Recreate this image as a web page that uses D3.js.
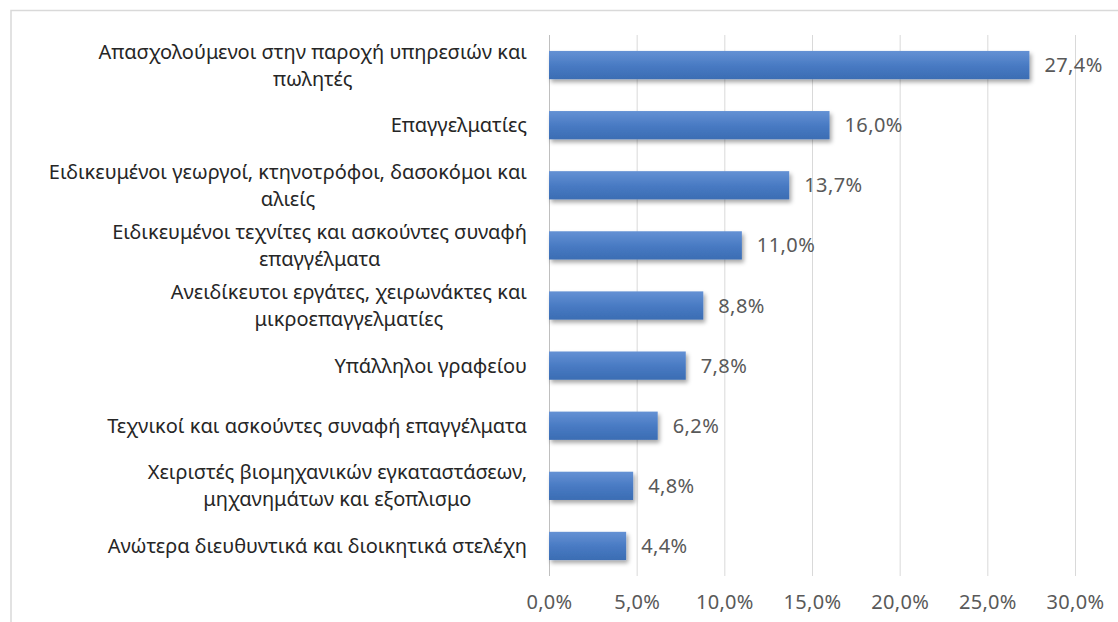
<!DOCTYPE html>
<html>
<head>
<meta charset="utf-8">
<script src="https://cdn.jsdelivr.net/npm/d3@7"></script>
<style>
  body { margin: 0; background: #fff; }
  svg { display: block; }
</style>
</head>
<body>
<svg id="chart" width="1118" height="622"></svg>
<script>
// categories, top to bottom (lines as wrapped in the original)
var categories = [
    ["Απασχολούμενοι στην παροχή υπηρεσιών και", "πωλητές"],
    ["Επαγγελματίες"],
    ["Ειδικευμένοι γεωργοί, κτηνοτρόφοι, δασοκόμοι και", "αλιείς"],
    ["Ειδικευμένοι τεχνίτες και ασκούντες συναφή", "επαγγέλματα"],
    ["Ανειδίκευτοι εργάτες, χειρωνάκτες και", "μικροεπαγγελματίες"],
    ["Υπάλληλοι γραφείου"],
    ["Τεχνικοί και ασκούντες συναφή επαγγέλματα"],
    ["Χειριστές βιομηχανικών εγκαταστάσεων,", "μηχανημάτων και εξοπλισμο"],
    ["Ανώτερα διευθυντικά και διοικητικά στελέχη"]
];
var values = [27.4, 16.0, 13.7, 11.0, 8.8, 7.8, 6.2, 4.8, 4.4];
var ticks = [0, 5, 10, 15, 20, 25, 30];

var fmt = function (v) { return v.toFixed(1).replace(".", ",") + "%"; };

var svg = d3.select("#chart");
var font = "'Noto Sans', 'Open Sans', sans-serif";

// chart frame
svg.append("path")
    .attr("d", "M11,630 L11,10.5 L1130,10.5")
    .attr("fill", "none")
    .attr("stroke", "#d9d9d9")
    .attr("stroke-width", 1.5);

var defs = svg.append("defs");
var grad = defs.append("linearGradient")
    .attr("id", "barGrad")
    .attr("x1", 0).attr("y1", 0).attr("x2", 0).attr("y2", 1);
grad.append("stop").attr("offset", "0%").attr("stop-color", "#6491d4");
grad.append("stop").attr("offset", "55%").attr("stop-color", "#4779c2");
grad.append("stop").attr("offset", "100%").attr("stop-color", "#3b6db3");

var shadow = defs.append("filter")
    .attr("id", "shadow")
    .attr("x", "-5%").attr("y", "-20%").attr("width", "115%").attr("height", "160%");
shadow.append("feDropShadow")
    .attr("dx", 2).attr("dy", 3)
    .attr("stdDeviation", 2)
    .attr("flood-color", "#000")
    .attr("flood-opacity", 0.35);

var x = d3.scaleLinear().domain([0, 30]).range([549, 1075]);
var y = d3.scaleBand()
    .domain(d3.range(categories.length))
    .range([35, 576])
    .paddingInner(0.53)
    .paddingOuter(0.265);

// vertical gridlines
svg.append("g")
    .selectAll("line")
    .data(ticks)
    .enter().append("line")
    .attr("x1", function (d) { return x(d) + 0.5; })
    .attr("x2", function (d) { return x(d) + 0.5; })
    .attr("y1", 35)
    .attr("y2", 576)
    .attr("stroke", function (d) { return d === 0 ? "#bfbfbf" : "#d9d9d9"; })
    .attr("stroke-width", 1);

// x tick labels
var xAxis = svg.append("g")
    .attr("transform", "translate(0,576)")
    .call(d3.axisBottom(x).tickValues(ticks).tickSize(0).tickPadding(0).tickFormat(fmt));
xAxis.select(".domain").remove();
xAxis.selectAll("text")
    .attr("y", 33)
    .attr("dy", 0)
    .attr("font-family", font)
    .attr("font-size", 20)
    .attr("letter-spacing", 0.3)
    .attr("fill", "#595959");

// bars
svg.append("g")
    .selectAll("rect")
    .data(values)
    .enter().append("rect")
    .attr("x", x(0))
    .attr("y", function (d, i) { return y(i); })
    .attr("width", function (d) { return x(d) - x(0); })
    .attr("height", y.bandwidth())
    .attr("fill", "url(#barGrad)")
    .attr("filter", "url(#shadow)");

// value labels
svg.append("g")
    .selectAll("text")
    .data(values)
    .enter().append("text")
    .attr("x", function (d) { return x(d) + 15; })
    .attr("y", function (d, i) { return y(i) + y.bandwidth() / 2; })
    .attr("dy", "0.35em")
    .attr("font-family", font)
    .attr("font-size", 20)
    .attr("letter-spacing", 0.4)
    .attr("fill", "#595959")
    .text(fmt);

// category labels: block right aligned, lines centred inside the block
var lineH = 27;
var labels = svg.append("g")
    .selectAll("g")
    .data(categories)
    .enter().append("g")
    .attr("transform", function (d, i) {
        var cy = y(i) + y.bandwidth() / 2;
        return "translate(0," + (cy - (d.length - 1) * lineH / 2) + ")";
    });

labels.each(function (lines) {
    var g = d3.select(this);
    var t = g.selectAll("text")
        .data(lines)
        .enter().append("text")
        .attr("y", function (d, j) { return j * lineH; })
        .attr("dy", "0.35em")
        .attr("font-family", font)
        .attr("font-size", 20)
        .attr("fill", "#262626")
        .attr("text-anchor", "middle")
        .text(function (d) { return d; });
    var w = 0;
    t.each(function () { w = Math.max(w, this.getComputedTextLength()); });
    t.attr("x", 527 - w / 2);
});
</script>
</body>
</html>
